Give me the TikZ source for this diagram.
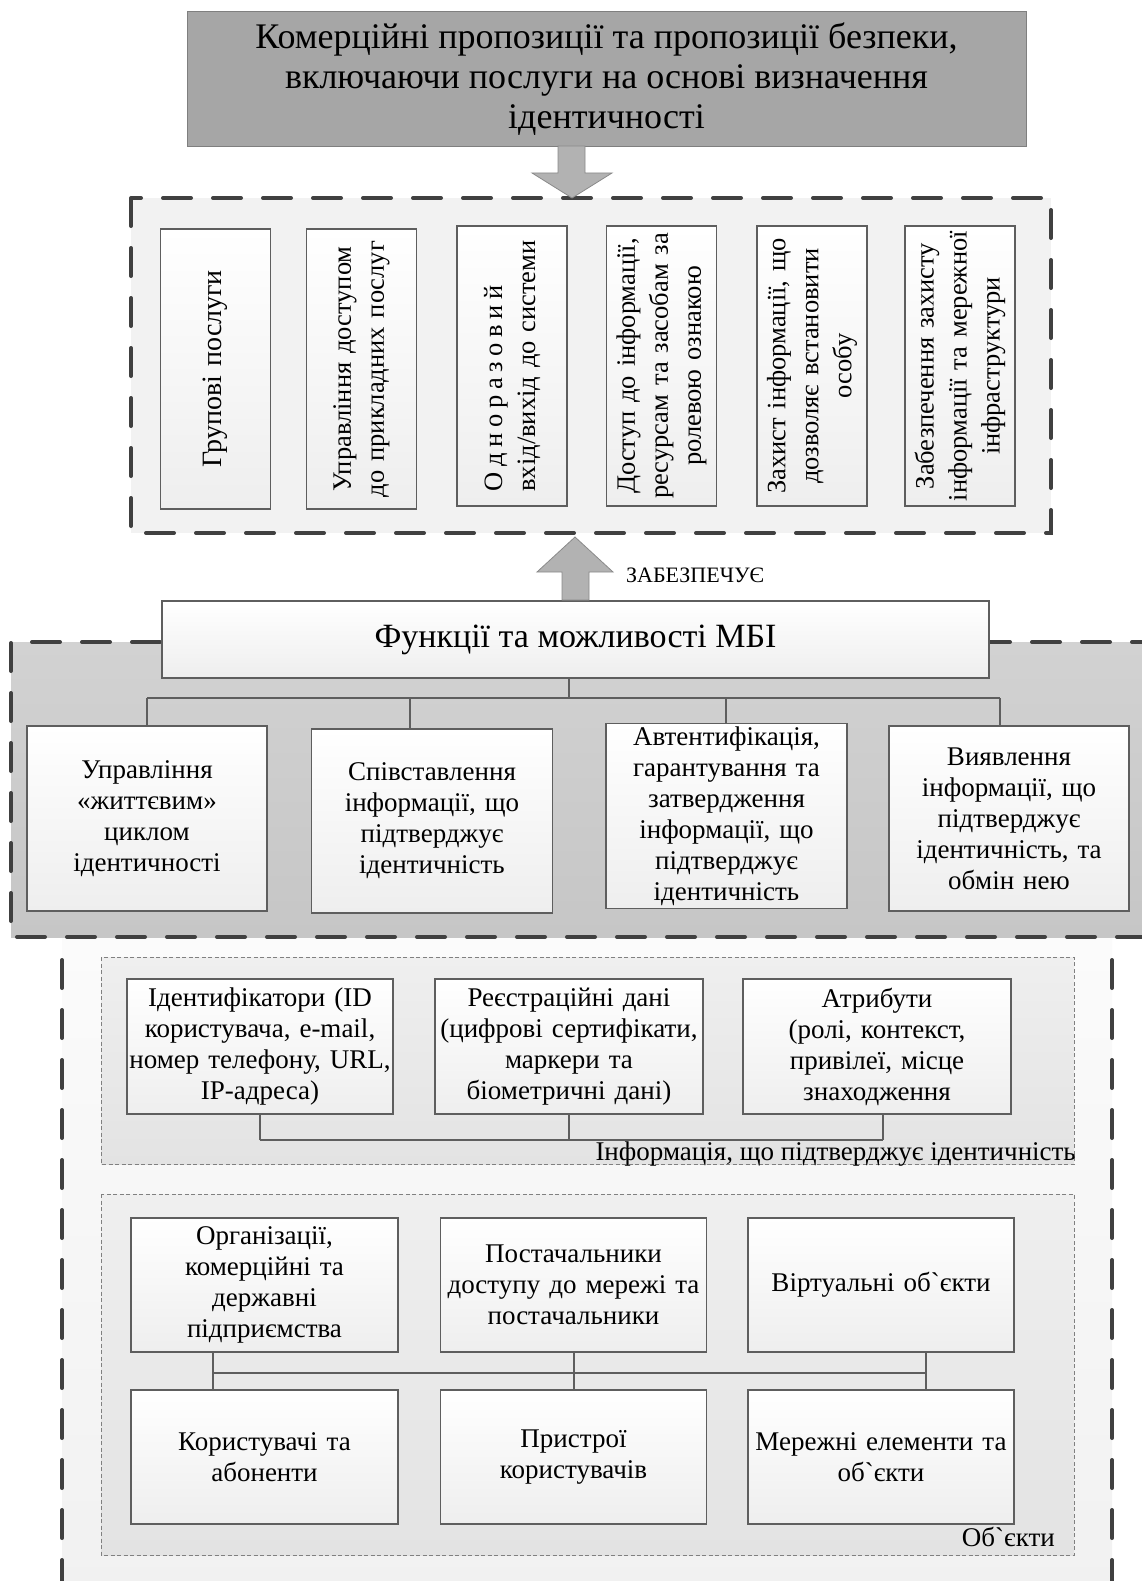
\documentclass[tikz,border=0pt]{standalone}
\usepackage{fontspec}
\setmainfont{Liberation Serif}[Ligatures=TeXOff]
\usetikzlibrary{calc}
\definecolor{topfill}{HTML}{A6A6A6}
\definecolor{topdraw}{HTML}{7F7F7F}
\definecolor{arrfill}{HTML}{B2B2B2}
\definecolor{arrdraw}{HTML}{8A8A8A}
\definecolor{dashc}{HTML}{404040}
\definecolor{regone}{HTML}{F2F2F2}
\definecolor{regtwoa}{HTML}{D2D2D2}
\definecolor{regtwob}{HTML}{C6C6C6}
\definecolor{regthra}{HTML}{FBFBFB}
\definecolor{regthrb}{HTML}{F1F1F1}
\definecolor{dota}{HTML}{EFEFEF}
\definecolor{dotb}{HTML}{E3E3E3}
\definecolor{boxb}{HTML}{EEEEEE}
\definecolor{boxline}{HTML}{5E5E5E}
\newcommand\myfs[2]{\fontsize{#1}{#2}\selectfont}
\newcommand\lsp{\kern5.6pt}
\begin{document}
\begin{tikzpicture}[x=1pt,y=-1pt,
  bigdash/.style={draw=dashc,line width=4pt,line cap=round,dash pattern=on 28pt off 22pt},
  smalldash/.style={draw=gray,line width=1pt,dash pattern=on 4pt off 2.5pt},
  box/.style={draw=boxline,line width=1.1pt,top color=white,bottom color=boxb,inner sep=0pt,align=center},
  hbox/.style={box,font=\myfs{27}{31}},
  vbox/.style={box,rotate=90,font=\myfs{26.5}{33},minimum width=280pt,minimum height=110pt,text width=280pt},
  conn/.style={draw=boxline,line width=1.1pt},
  blockarrow/.style={fill=arrfill,draw=arrdraw,line width=0.8pt},
  lbl/.style={inner sep=0pt}]
\useasboundingbox (0,0) rectangle (1142,1581);
\begin{scope}
\clip (0,0) rectangle (1142,1581);
% lower region
\fill[top color=regthra,bottom color=regthrb] (62,938) rectangle (1112,1600);
\draw[bigdash] (62,960) -- (62,1600);
\draw[bigdash] (1112,960) -- (1112,1600);
% grey region
\fill[top color=regtwoa,bottom color=regtwob] (11,642) rectangle (1160,937);
\draw[bigdash] (1160,642) -- (11,642) -- (11,937) -- (1160,937);
\end{scope}
% region of services
\fill[regone] (131,198) rectangle (1051,533);
\draw[bigdash] (131,198) rectangle (1051,533);

% top box
\node[draw=topdraw,fill=topfill,line width=1pt,minimum width=839pt,minimum height=135pt,align=center,font=\myfs{36}{40}] (top) at (606.5,79)
 {Комерційні пропозиції та пропозиції безпеки,\\ включаючи послуги на основі визначення\\ ідентичності};
% down block arrow
\draw[blockarrow] (558,146) -- (558,173) -- (532,173) -- (572,198) -- (612,173) -- (585,173) -- (585,146) -- cycle;

% vertical boxes
\node[vbox,font=\myfs{28}{33}] (v1) at (215.5,369) {Групові послуги};
\node[vbox] (v2) at (361.5,369) {Управління доступом\\до прикладних послуг};
\node[vbox] (v3) at (512,366) {\makebox[250pt][l]{О\lsp д\lsp н\lsp о\lsp р\lsp а\lsp з\lsp о\lsp в\lsp и\lsp й}\\вхід/вихід до системи};
\node[vbox] (v4) at (661.5,366) {Доступ до інформації,\\ресурсам та засобам за\\ролевою ознакою};
\node[vbox] (v5) at (812,366) {Захист інформації, що\\дозволяє встановити\\особу};
\node[vbox] (v6) at (960,366) {Забезпечення захисту\\інформації та мережної\\інфраструктури};

% functions box
\node[box,minimum width=827pt,minimum height=77pt,font=\myfs{34}{36}] (f) at (575.5,639.5) {Функції та можливості МБІ};
% up block arrow
\draw[blockarrow] (562,600) -- (562,572) -- (537,572) -- (575,537) -- (613,572) -- (589,572) -- (589,600) -- cycle;
\node[lbl,anchor=base west,font=\myfs{22}{24}] (zab) at (626,582) {ЗАБЕЗПЕЧУЄ};

% four function boxes
\node[hbox,minimum width=240pt,minimum height=185pt,text width=230pt] (a1) at (147,818.5) {Управління\\«життєвим»\\циклом\\ідентичності};
\node[hbox,minimum width=241pt,minimum height=184pt,text width=231pt] (a2) at (432,821) {Співставлення\\інформації, що\\підтверджує\\ідентичність};
\node[hbox,minimum width=241pt,minimum height=185pt,text width=231pt] (a3) at (726.5,816) {Автентифікація,\\гарантування та\\затвердження\\інформації, що\\підтверджує\\ідентичність};
\node[hbox,minimum width=240pt,minimum height=185pt,text width=230pt] (a4) at (1009,818.5) {Виявлення\\інформації, що\\підтверджує\\ідентичність, та\\обмін нею};
\coordinate (fj) at (569,698);
\coordinate (d1) at (147,698);
\coordinate (d2) at (410,698);
\coordinate (d3) at (726,698);
\coordinate (d4) at (1000,698);
\draw[conn] (f.south -| fj) -- (fj);
\draw[conn] (d1) -- (d4);
\draw[conn] (d1) -- (d1 |- a1.north);
\draw[conn] (d2) -- (d2 |- a2.north);
\draw[conn] (d3) -- (d3 |- a3.north);
\draw[conn] (d4) -- (d4 |- a4.north);

% identity information group
\draw[smalldash,top color=dota,bottom color=dotb] (101,957) rectangle (1074,1164);
\node[hbox,minimum width=266pt,minimum height=135pt,text width=266pt] (i1) at (260,1046.5) {Ідентифікатори (ID\\користувача, e-mail,\\номер телефону, URL,\\IP-адреса)};
\node[hbox,minimum width=268pt,minimum height=135pt,text width=266pt] (i2) at (569,1046.5) {Реєстраційні дані\\(цифрові сертифікати,\\маркери та\\біометричні дані)};
\node[hbox,minimum width=268pt,minimum height=135pt,text width=266pt] (i3) at (877,1046.5) {Атрибути\\(ролі, контекст,\\привілеї, місце\\знаходження};
\coordinate (e1) at (260,1140);
\coordinate (e2) at (569,1140);
\coordinate (e3) at (883,1140);
\draw[conn] (e1) -- (e3);
\draw[conn] (e1) -- (e1 |- i1.south);
\draw[conn] (e2) -- (e2 |- i2.south);
\draw[conn] (e3) -- (e3 |- i3.south);
\node[lbl,anchor=base east,font=\myfs{27}{31}] (infol) at (1076,1160) {Інформація, що підтверджує ідентичність};

% objects group
\draw[smalldash,top color=dota,bottom color=dotb] (101,1194) rectangle (1074,1555);
\node[hbox,minimum width=267pt,minimum height=134pt,text width=263pt] (o1) at (264.5,1285) {Організації,\\комерційні та\\державні\\підприємства};
\node[hbox,minimum width=266pt,minimum height=134pt,text width=262pt] (o2) at (573.5,1285) {Постачальники\\доступу до мережі та\\постачальники};
\node[hbox,minimum width=266pt,minimum height=134pt,text width=262pt] (o3) at (881,1285) {Віртуальні об`єкти};
\node[hbox,minimum width=267pt,minimum height=134pt,text width=263pt] (o4) at (264.5,1457) {Користувачі та\\абоненти};
\node[hbox,minimum width=266pt,minimum height=134pt,text width=262pt] (o5) at (573.5,1457) {Пристрої\\користувачів};
\node[hbox,minimum width=266pt,minimum height=134pt,text width=262pt] (o6) at (881,1457) {Мережні елементи та\\об`єкти};
\coordinate (g1) at (213,1373);
\coordinate (g2) at (574,1373);
\coordinate (g3) at (926,1373);
\draw[conn,line width=1.6pt] (g1) -- (g3);
\draw[conn] (g1 |- o1.south) -- (g1 |- o4.north);
\draw[conn] (g2 |- o2.south) -- (g2 |- o5.north);
\draw[conn] (g3 |- o3.south) -- (g3 |- o6.north);
\node[lbl,anchor=base east,font=\myfs{27}{31}] (objl) at (1055,1546) {Об`єкти};
\end{tikzpicture}
\end{document}
